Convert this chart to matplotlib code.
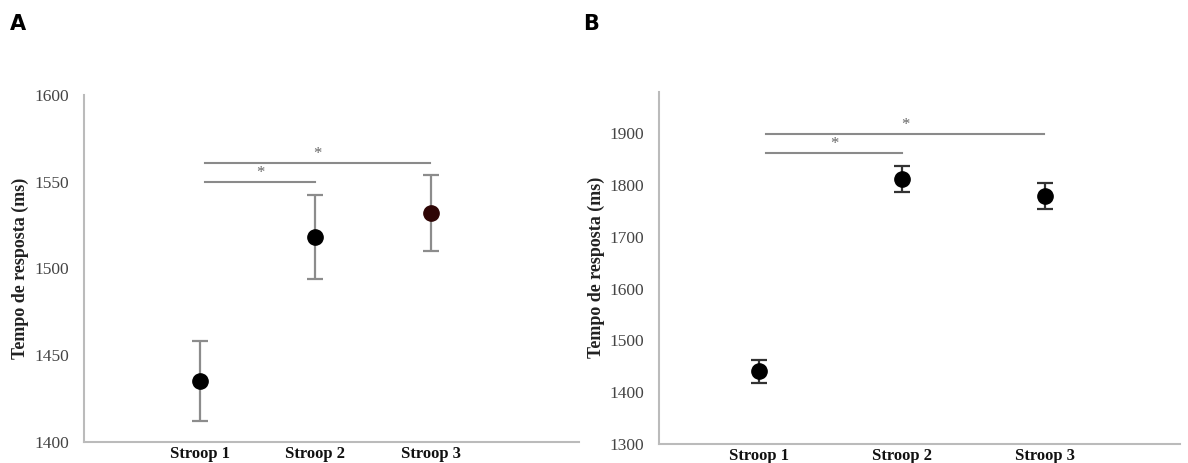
import matplotlib.pyplot as plt

# Tempos de resposta médios (ms) e erro padrão por fase do Stroop
condicoes = ["Stroop 1", "Stroop 2", "Stroop 3"]
media_a = [1435, 1518, 1532]
erro_a = [23, 24, 22]
media_b = [1440, 1811, 1779]
erro_b = [22, 25, 25]

# comparações significativas: (condição i, condição j, altura da barra)
sig_a = [(0, 1, 1550), (0, 2, 1561)]
sig_b = [(0, 1, 1862), (0, 2, 1899)]

serif = ["Liberation Serif", "DejaVu Serif"]
fig = plt.figure(figsize=(11.88, 4.63), dpi=100)
ax_a = fig.add_axes([0.0707, 0.046, 0.4167, 0.749])
ax_b = fig.add_axes([0.5547, 0.041, 0.4386, 0.761])


def painel(ax, medias, erros, sigs, ylim, yticks, xlim, cor_erro, cores_ponto, off_a):
    xs = [1, 2, 3]
    for x, m, e, c in zip(xs, medias, erros, cores_ponto):
        ax.errorbar(x, m, yerr=e, fmt="o", color=c, ms=11, ecolor=cor_erro,
                    elinewidth=1.6, capsize=6, capthick=1.6, zorder=3)
    for i, j, h in sigs:
        x0, x1 = xs[i] + 0.05, xs[j] - (0.0 if j == 1 else 0.01)
        ax.plot([x0, x1], [h, h], color="#8a8a8a", lw=1.5, zorder=2)
        ax.text((x0 + x1) / 2, h + off_a, "*", ha="center", va="bottom",
                fontsize=12, color="#666666", family=serif)
    ax.set_xlim(*xlim)
    ax.set_ylim(*ylim)
    ax.set_yticks(yticks)
    ax.set_yticklabels([str(t) for t in yticks], family=serif, fontsize=12.5, color="#444444")
    ax.set_xticks(xs)
    ax.set_xticklabels(condicoes, family=serif, fontsize=12, fontweight="bold", color="#111111")
    ax.tick_params(axis="both", length=0)
    ax.tick_params(axis="y", pad=11)
    ax.tick_params(axis="x", pad=3)
    ax.set_ylabel("Tempo de resposta (ms)", family=serif, fontsize=13,
                  fontweight="bold", color="#222222")
    for s in ["top", "right"]:
        ax.spines[s].set_visible(False)
    ax.spines["left"].set_color("#bbbbbb")
    ax.spines["bottom"].set_color("#bbbbbb")
    ax.spines["left"].set_linewidth(1.5)
    ax.spines["bottom"].set_linewidth(1.5)


painel(ax_a, media_a, erro_a, sig_a, (1400, 1600), [1400, 1450, 1500, 1550, 1600],
       (0.0, 4.28), "#8c8c8c", ["black", "black", "#2e0505"], 0.3)
painel(ax_b, media_b, erro_b, sig_b, (1300, 1980), [1300, 1400, 1500, 1600, 1700, 1800, 1900],
       (0.3, 3.94), "#333333", ["black", "black", "black"], 1)

ax_a.yaxis.set_label_coords(-0.111, 0.5)
ax_b.yaxis.set_label_coords(-0.104, 0.5)

fig.text(0.0085, 0.935, "A", fontsize=15, fontweight="bold", family="DejaVu Sans")
fig.text(0.491, 0.935, "B", fontsize=15, fontweight="bold", family="DejaVu Sans")

fig.savefig("out.png", dpi=100)
